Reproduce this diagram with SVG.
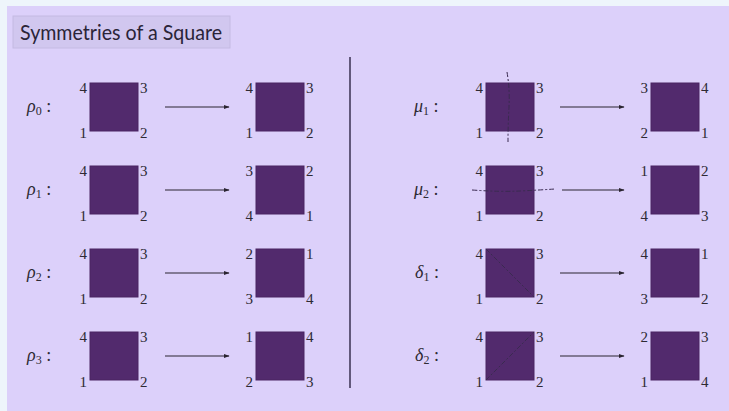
<svg xmlns="http://www.w3.org/2000/svg" width="729" height="411" viewBox="0 0 729 411">
<defs>
<style>
.sq{fill:#522a6d;stroke:#4a2563;stroke-width:1}
.n{font-size:15px;fill:#2e2a33}
.lb{font-size:18px;fill:#2e2a33}
.ar{stroke:#2a2430;stroke-width:1.2;fill:none;marker-end:url(#ah)}
.ax{stroke:#3a2a50;stroke-width:1;fill:none;stroke-dasharray:5 2 2 2}
</style>
<marker id="ah" viewBox="0 0 10 10" refX="9" refY="5" markerWidth="6" markerHeight="6" orient="auto" markerUnits="userSpaceOnUse">
<path d="M0,1.5 L10,5 L0,8.5 z" fill="#2a2430"/>
</marker>
</defs>
<rect x="0" y="0" width="729" height="411" fill="#eef5fb"/>
<rect x="7" y="6" width="722" height="405" fill="#dcd0fa"/>
<g id="title">
<rect x="13" y="16" width="217" height="32" fill="#d1c7ef" stroke="#c4bae2" stroke-width="1"/>
<text x="20" y="40" font-family="Lato, 'Open Sans', sans-serif" font-size="21" fill="#2a2438" textLength="202" lengthAdjust="spacingAndGlyphs">Symmetries of a Square</text>
</g>
<g id="divider"><line x1="350" y1="57" x2="350" y2="388" stroke="#3a3050" stroke-width="1.5"/></g>

<g font-family="Liberation Serif, Times New Roman, serif">
<g id="rho0">
<text class="lb" x="27" y="112"><tspan font-style="italic">ρ</tspan><tspan font-size="12" dy="3">0</tspan><tspan dy="-3"> :</tspan></text>
<rect class="sq" x="90" y="83" width="48" height="48"/>
<text class="n" x="87" y="93" text-anchor="end">4</text><text class="n" x="140" y="93">3</text>
<text class="n" x="87" y="138" text-anchor="end">1</text><text class="n" x="140" y="138">2</text>
<rect class="sq" x="256" y="83" width="48" height="48"/>
<text class="n" x="253" y="93" text-anchor="end">4</text><text class="n" x="306" y="93">3</text>
<text class="n" x="253" y="138" text-anchor="end">1</text><text class="n" x="306" y="138">2</text>
</g>
<g id="rho1">
<text class="lb" x="27" y="195"><tspan font-style="italic">ρ</tspan><tspan font-size="12" dy="3">1</tspan><tspan dy="-3"> :</tspan></text>
<rect class="sq" x="90" y="166" width="48" height="48"/>
<text class="n" x="87" y="176" text-anchor="end">4</text><text class="n" x="140" y="176">3</text>
<text class="n" x="87" y="221" text-anchor="end">1</text><text class="n" x="140" y="221">2</text>
<rect class="sq" x="256" y="166" width="48" height="48"/>
<text class="n" x="253" y="176" text-anchor="end">3</text><text class="n" x="306" y="176">2</text>
<text class="n" x="253" y="221" text-anchor="end">4</text><text class="n" x="306" y="221">1</text>
</g>
<g id="rho2">
<text class="lb" x="27" y="278"><tspan font-style="italic">ρ</tspan><tspan font-size="12" dy="3">2</tspan><tspan dy="-3"> :</tspan></text>
<rect class="sq" x="90" y="249" width="48" height="48"/>
<text class="n" x="87" y="259" text-anchor="end">4</text><text class="n" x="140" y="259">3</text>
<text class="n" x="87" y="304" text-anchor="end">1</text><text class="n" x="140" y="304">2</text>
<rect class="sq" x="256" y="249" width="48" height="48"/>
<text class="n" x="253" y="259" text-anchor="end">2</text><text class="n" x="306" y="259">1</text>
<text class="n" x="253" y="304" text-anchor="end">3</text><text class="n" x="306" y="304">4</text>
</g>
<g id="rho3">
<text class="lb" x="27" y="361"><tspan font-style="italic">ρ</tspan><tspan font-size="12" dy="3">3</tspan><tspan dy="-3"> :</tspan></text>
<rect class="sq" x="90" y="332" width="48" height="48"/>
<text class="n" x="87" y="342" text-anchor="end">4</text><text class="n" x="140" y="342">3</text>
<text class="n" x="87" y="387" text-anchor="end">1</text><text class="n" x="140" y="387">2</text>
<rect class="sq" x="256" y="332" width="48" height="48"/>
<text class="n" x="253" y="342" text-anchor="end">1</text><text class="n" x="306" y="342">4</text>
<text class="n" x="253" y="387" text-anchor="end">2</text><text class="n" x="306" y="387">3</text>
</g>

<g id="mu1">
<text class="lb" x="414" y="112"><tspan font-style="italic">μ</tspan><tspan font-size="12" dy="3">1</tspan><tspan dy="-3"> :</tspan></text>
<rect class="sq" x="486" y="83" width="48" height="48"/>
<text class="n" x="483" y="93" text-anchor="end">4</text><text class="n" x="536" y="93">3</text>
<text class="n" x="483" y="138" text-anchor="end">1</text><text class="n" x="536" y="138">2</text>
<path class="ax" d="M507,72 Q510,90 509,107 T508,142"/>
<rect class="sq" x="651" y="83" width="48" height="48"/>
<text class="n" x="648" y="93" text-anchor="end">3</text><text class="n" x="701" y="93">4</text>
<text class="n" x="648" y="138" text-anchor="end">2</text><text class="n" x="701" y="138">1</text>
</g>
<g id="mu2">
<text class="lb" x="414" y="195"><tspan font-style="italic">μ</tspan><tspan font-size="12" dy="3">2</tspan><tspan dy="-3"> :</tspan></text>
<rect class="sq" x="486" y="166" width="48" height="48"/>
<text class="n" x="483" y="176" text-anchor="end">4</text><text class="n" x="536" y="176">3</text>
<text class="n" x="483" y="221" text-anchor="end">1</text><text class="n" x="536" y="221">2</text>
<path class="ax" d="M472,190 Q500,192 520,191 T555,189"/>
<rect class="sq" x="651" y="166" width="48" height="48"/>
<text class="n" x="648" y="176" text-anchor="end">1</text><text class="n" x="701" y="176">2</text>
<text class="n" x="648" y="221" text-anchor="end">4</text><text class="n" x="701" y="221">3</text>
</g>
<g id="delta1">
<text class="lb" x="415" y="278"><tspan font-style="italic">δ</tspan><tspan font-size="12" dy="3">1</tspan><tspan dy="-3"> :</tspan></text>
<rect class="sq" x="486" y="249" width="48" height="48"/>
<text class="n" x="483" y="259" text-anchor="end">4</text><text class="n" x="536" y="259">3</text>
<text class="n" x="483" y="304" text-anchor="end">1</text><text class="n" x="536" y="304">2</text>
<line class="ax" x1="486" y1="249" x2="534" y2="297"/>
<rect class="sq" x="651" y="249" width="48" height="48"/>
<text class="n" x="648" y="259" text-anchor="end">4</text><text class="n" x="701" y="259">1</text>
<text class="n" x="648" y="304" text-anchor="end">3</text><text class="n" x="701" y="304">2</text>
</g>
<g id="delta2">
<text class="lb" x="415" y="361"><tspan font-style="italic">δ</tspan><tspan font-size="12" dy="3">2</tspan><tspan dy="-3"> :</tspan></text>
<rect class="sq" x="486" y="332" width="48" height="48"/>
<text class="n" x="483" y="342" text-anchor="end">4</text><text class="n" x="536" y="342">3</text>
<text class="n" x="483" y="387" text-anchor="end">1</text><text class="n" x="536" y="387">2</text>
<line class="ax" x1="486" y1="380" x2="534" y2="332"/>
<rect class="sq" x="651" y="332" width="48" height="48"/>
<text class="n" x="648" y="342" text-anchor="end">2</text><text class="n" x="701" y="342">3</text>
<text class="n" x="648" y="387" text-anchor="end">1</text><text class="n" x="701" y="387">4</text>
</g>
</g>

<g id="connectors">
<line class="ar" x1="165" y1="107" x2="229" y2="107"/>
<line class="ar" x1="165" y1="190" x2="229" y2="190"/>
<line class="ar" x1="165" y1="273" x2="229" y2="273"/>
<line class="ar" x1="165" y1="356" x2="229" y2="356"/>
<line class="ar" x1="560" y1="107" x2="624" y2="107"/>
<line class="ar" x1="562" y1="190" x2="624" y2="190"/>
<line class="ar" x1="560" y1="273" x2="624" y2="273"/>
<line class="ar" x1="560" y1="356" x2="624" y2="356"/>
</g>
</svg>
